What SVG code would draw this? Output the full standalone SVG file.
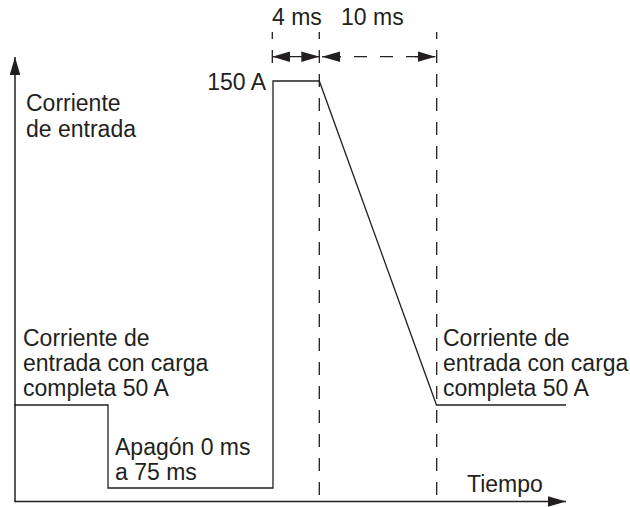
<svg xmlns="http://www.w3.org/2000/svg" width="630" height="507" viewBox="0 0 630 507">
<style>
  text { font-family: "Liberation Sans", Arial, sans-serif; font-size: 23px; fill: #231f20; }
  .ln { fill: none; stroke: #231f20; stroke-width: 1.3; }
  .ax { fill: none; stroke: #231f20; stroke-width: 1.5; }
  .dv { fill: none; stroke: #231f20; stroke-width: 1.3; stroke-dasharray: 13 11; stroke-dashoffset: 6; }
  .dh { fill: none; stroke: #231f20; stroke-width: 1.3; stroke-dasharray: 13 13; }
</style>
<defs>
  <marker id="arr" viewBox="0 0 18 10.6" refX="18" refY="5.3" markerWidth="18" markerHeight="10.6" markerUnits="userSpaceOnUse" orient="auto-start-reverse">
    <path d="M0,0 L18,5.3 L0,10.6 Z" fill="#231f20"/>
  </marker>
</defs>
<rect width="630" height="507" fill="#ffffff"/>
<g id="axes">
  <line class="ax" x1="15" y1="501.5" x2="15" y2="57" marker-end="url(#arr)"/>
  <line class="ax" x1="14.3" y1="501.5" x2="566" y2="501.5" marker-end="url(#arr)"/>
</g>
<g id="guides">
  <line class="dv" x1="272.3" y1="32" x2="272.3" y2="64"/>
  <line class="dv" x1="319.3" y1="32" x2="319.3" y2="498"/>
  <line class="dv" x1="436.7" y1="32" x2="436.7" y2="498"/>
</g>
<g id="connectors">
  <line class="ln" x1="272.3" y1="56.7" x2="319.3" y2="56.7" marker-start="url(#arr)" marker-end="url(#arr)"/>
  <line class="ln" x1="322" y1="56.7" x2="341" y2="56.7" marker-start="url(#arr)"/>
  <line class="dh" x1="328" y1="56.7" x2="420" y2="56.7"/>
  <line class="ln" x1="415" y1="56.7" x2="435.5" y2="56.7" marker-end="url(#arr)"/>
</g>
<g id="waveform">
  <polyline class="ln" points="14,405 108,405 108,488 273,488 273,81 319.3,81 436.5,405 566,405"/>
</g>
<g id="labels">
  <text x="272" y="25">4 ms</text>
  <text x="341" y="25">10 ms</text>
  <text x="266" y="90" text-anchor="end">150 A</text>
  <text x="26" y="111">Corriente</text>
  <text x="26" y="137">de entrada</text>
  <text x="23" y="346">Corriente de</text>
  <text x="23" y="371">entrada con carga</text>
  <text x="23" y="396">completa 50 A</text>
  <text x="443" y="346">Corriente de</text>
  <text x="443" y="371">entrada con carga</text>
  <text x="443" y="396">completa 50 A</text>
  <text x="115" y="455">Apagón 0 ms</text>
  <text x="115" y="480">a 75 ms</text>
  <text x="467" y="492">Tiempo</text>
</g>
</svg>
